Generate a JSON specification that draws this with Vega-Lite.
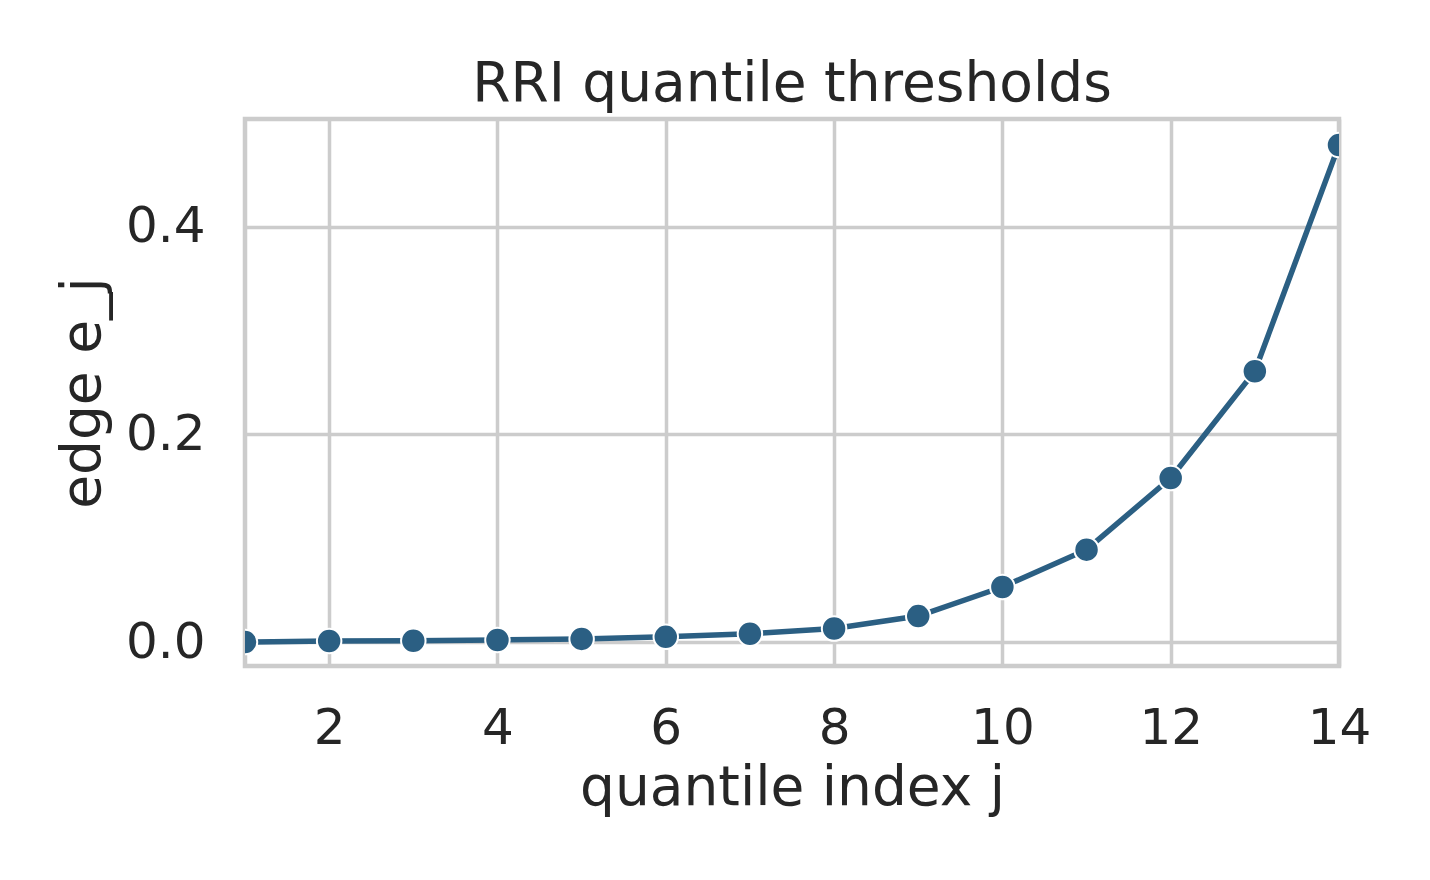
{
  "$schema": "https://vega.github.io/schema/vega-lite/v6.json",
  "autosize": {"type": "none"},
  "padding": {"left": 245, "top": 119, "right": 91, "bottom": 214},
  "width": 1094,
  "height": 547,
  "title": {
    "text": "RRI quantile thresholds",
    "fontSize": 55,
    "font": "DejaVu Sans",
    "fontWeight": "normal",
    "color": "#262626",
    "offset": 6
  },
  "data": {
    "values": [
      {"j": 1, "edge": 0.0},
      {"j": 2, "edge": 0.001},
      {"j": 3, "edge": 0.0013},
      {"j": 4, "edge": 0.002},
      {"j": 5, "edge": 0.003},
      {"j": 6, "edge": 0.005},
      {"j": 7, "edge": 0.008},
      {"j": 8, "edge": 0.013},
      {"j": 9, "edge": 0.025},
      {"j": 10, "edge": 0.053},
      {"j": 11, "edge": 0.089},
      {"j": 12, "edge": 0.158},
      {"j": 13, "edge": 0.261},
      {"j": 14, "edge": 0.479}
    ]
  },
  "encoding": {
    "x": {
      "field": "j",
      "type": "quantitative",
      "title": "quantile index j",
      "scale": {"domain": [1, 14], "nice": false, "zero": false},
      "axis": {"values": [2, 4, 6, 8, 10, 12, 14], "labelPadding": 37, "titlePadding": 8, "labelFlush": false}
    },
    "y": {
      "field": "edge",
      "type": "quantitative",
      "title": "edge e_j",
      "scale": {"domain": [-0.0231, 0.504], "nice": false, "zero": false},
      "axis": {"values": [0, 0.2, 0.4], "format": ".1f", "labelPadding": 40, "titlePadding": 14, "labelFlush": false}
    }
  },
  "layer": [
    {
      "mark": {"type": "line", "color": "#2b5f83", "strokeWidth": 5.5, "clip": true}
    },
    {
      "mark": {"type": "point", "filled": true, "color": "#2b5f83", "size": 600, "opacity": 1, "stroke": "white", "strokeWidth": 2, "strokeOpacity": 1, "clip": true}
    }
  ],
  "config": {
    "font": "DejaVu Sans",
    "view": {"stroke": "#cccccc", "strokeWidth": 4.5},
    "axis": {
      "domain": false,
      "ticks": false,
      "grid": true,
      "gridColor": "#cccccc",
      "gridWidth": 3.5,
      "labelFont": "DejaVu Sans",
      "labelFontSize": 50,
      "labelColor": "#262626",
      "titleFont": "DejaVu Sans",
      "titleFontSize": 55,
      "titleFontWeight": "normal",
      "titleColor": "#262626"
    }
  }
}
